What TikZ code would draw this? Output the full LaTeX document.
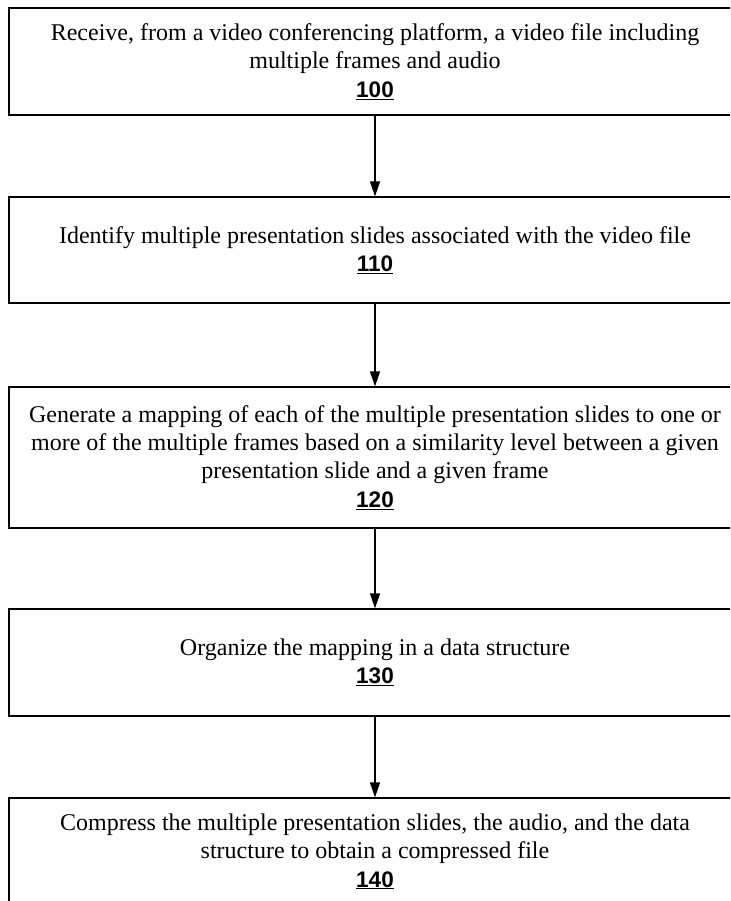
\documentclass[tikz,border=0pt]{standalone}
\usepackage{fontspec}
\setmainfont{Liberation Serif}
\newfontfamily\numfont{Liberation Sans}
\usetikzlibrary{arrows.meta}
\tikzset{
  stepbox/.style={draw=black, line width=1.3pt, minimum width=732pt, inner sep=0pt,
    align=center, font=\fontsize{24}{28.3}\selectfont},
  flowarrow/.style={draw=black, line width=1.3pt, -{Triangle[width=10pt,length=15pt]}},
}
\newcommand{\stepnum}[1]{{\fontsize{22.5}{28.3}\selectfont\numfont\bfseries\underline{#1}}}
\begin{document}
\begin{tikzpicture}[x=1pt,y=-1pt]
\useasboundingbox (0,0) rectangle (730,901);
\clip (0,0) rectangle (730,901);
\fill[white] (0,0) rectangle (730,901);
\node[stepbox, minimum height=107pt] (b1) at (375,61.5)
  {Receive, from a video conferencing platform, a video file including\\
   multiple frames and audio\\ \stepnum{100}};
\node[stepbox, minimum height=106pt] (b2) at (375,250)
  {Identify multiple presentation slides associated with the video file\\ \stepnum{110}};
\node[stepbox, minimum height=141pt] (b3) at (375,457.5)
  {Generate a mapping of each of the multiple presentation slides to one or\\
   more of the multiple frames based on a similarity level between a given\\
   presentation slide and a given frame\\ \stepnum{120}};
\node[stepbox, minimum height=107pt] (b4) at (375,662.5)
  {Organize the mapping in a data structure\\ \stepnum{130}};
\node[stepbox, minimum height=107pt] (b5) at (375,851.5)
  {Compress the multiple presentation slides, the audio, and the data\\
   structure to obtain a compressed file\\ \stepnum{140}};
\draw[flowarrow] (b1) -- (b2);
\draw[flowarrow] (b2) -- (b3);
\draw[flowarrow] (b3) -- (b4);
\draw[flowarrow] (b4) -- (b5);
\end{tikzpicture}
\end{document}
